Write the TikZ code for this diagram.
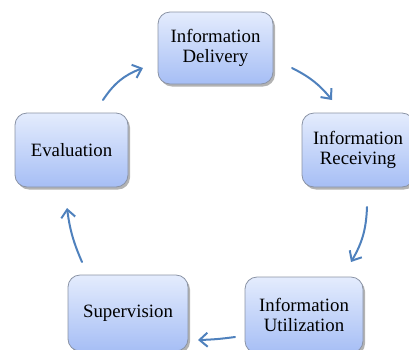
\documentclass[tikz,border=0pt]{standalone}
\usepackage{fontspec}
\setmainfont{Liberation Serif}
\usetikzlibrary{arrows.meta,shadows,positioning}
\definecolor{boxtop}{HTML}{E4ECFD}
\definecolor{boxbot}{HTML}{A6BEF5}
\definecolor{boxline}{HTML}{8A93A5}
\definecolor{arrowblue}{HTML}{4F81BD}
\tikzset{
  stagebox/.style={draw=boxline, line width=0.8pt, rounded corners=12pt,
    top color=boxtop, bottom color=boxbot, align=center,
    font=\fontsize{18.8}{20}\selectfont, text=black,
    drop shadow={shadow xshift=2pt, shadow yshift=-2.5pt, fill=black!50, opacity=0.6},
    inner sep=0pt},
  flow/.style={draw=arrowblue, line width=2pt, line cap=round,
    -{Straight Barb[length=8pt,width=14pt,line width=2pt]}}
}
\begin{document}
\begin{tikzpicture}[x=1pt,y=-1pt]
\useasboundingbox (0,0) rectangle (409,349);
\node[stagebox, minimum width=115pt, minimum height=72pt] (del) at (215.5,48) {Information\\Delivery};
\node[stagebox, minimum width=112pt, minimum height=74pt] (rec) at (358,150) {Information\\Receiving};
\node[stagebox, minimum width=113pt, minimum height=74pt] (eva) at (71.5,150) {Evaluation};
\node[stagebox, minimum width=120pt, minimum height=76pt] (sup) at (128,313) {Supervision};
\node[stagebox, minimum width=118pt, minimum height=76pt] (uti) at (304,315) {Information\\Utilization};

\coordinate (a1s) at (103,100); \coordinate (a1e) at (143,68);
\coordinate (a2s) at (292,68);  \coordinate (a2e) at (332,100);
\coordinate (a3s) at (367,207); \coordinate (a3e) at (351,262);
\coordinate (a4s) at (235,337); \coordinate (a4e) at (198,340);
\coordinate (a5s) at (82,262);  \coordinate (a5e) at (67,208);

\draw[flow] (a1s) to[bend left=18] (a1e);
\draw[flow] (a2s) to[bend left=12] (a2e);
\draw[flow] (a3s) to[bend left=14] (a3e);
\draw[flow] (a4s) to[bend left=3] (a4e);
\draw[flow] (a5s) to[bend left=8] (a5e);
\end{tikzpicture}
\end{document}
